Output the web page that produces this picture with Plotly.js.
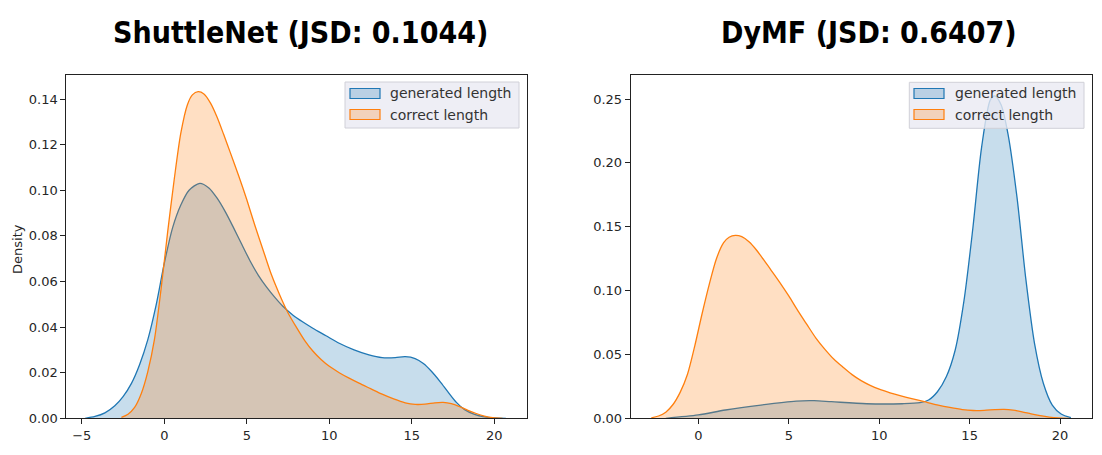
<!DOCTYPE html>
<html>
<head>
<meta charset="utf-8">
<script src="https://cdn.plot.ly/plotly-3.0.1.min.js"></script>
<style>html,body{margin:0;padding:0;background:#fff;}#chart{width:1102px;height:455px;}</style>
</head>
<body>
<div id="chart"></div>
<script>
// ---- Data ----
var seriesNames = ["generated length", "correct length"];
var panelTitles = ["ShuttleNet (JSD: 0.1044)", "DyMF (JSD: 0.6407)"];

// ShuttleNet generated length KDE
var shuttleGenX = [-4.8, -4.2, -3.6, -3.0, -2.5, -2.0, -1.5, -1.0, -0.5, 0.0, 0.5, 1.0, 1.5, 2.15, 2.7, 3.2, 3.7, 4.2, 4.7, 5.2, 5.7, 6.2, 6.7, 7.2, 7.8, 8.4, 9.0, 9.8, 10.6, 11.5, 12.4, 13.2, 14.0, 14.6, 15.2, 15.7, 16.2, 16.7, 17.2, 17.7, 18.2, 18.8, 19.4, 20.0, 20.7];
var shuttleGenY = [0.0, 0.0008, 0.0024, 0.0055, 0.0095, 0.0152, 0.0235, 0.0345, 0.0495, 0.0680, 0.0835, 0.0935, 0.1000, 0.1030, 0.1010, 0.0965, 0.0905, 0.0835, 0.0762, 0.0690, 0.0627, 0.0575, 0.0530, 0.0490, 0.0452, 0.0422, 0.0395, 0.0362, 0.0329, 0.0300, 0.0278, 0.0266, 0.0266, 0.0270, 0.0262, 0.0240, 0.0205, 0.0162, 0.0115, 0.0070, 0.0038, 0.0017, 0.0006, 0.0002, 0.0];

// correct length KDE (same ground truth in both panels)
var correctX = [-2.6, -2.2, -1.8, -1.4, -1.0, -0.6, -0.2, 0.2, 0.6, 1.0, 1.4, 1.7, 2.05, 2.4, 2.8, 3.2, 3.6, 4.0, 4.5, 5.0, 5.5, 6.0, 6.5, 7.0, 7.5, 8.0, 8.5, 9.0, 9.5, 10.0, 10.6, 11.2, 11.8, 12.5, 13.2, 13.9, 14.6, 15.2, 15.8, 16.4, 16.9, 17.4, 17.9, 18.4, 18.9, 19.4, 19.9, 20.5];
var correctY = [0.0004, 0.0018, 0.0048, 0.0108, 0.0205, 0.0345, 0.0565, 0.0815, 0.1047, 0.1250, 0.1375, 0.1418, 0.1432, 0.1422, 0.1382, 0.1320, 0.1244, 0.1165, 0.1065, 0.0958, 0.0843, 0.0735, 0.0628, 0.0540, 0.0462, 0.0400, 0.0342, 0.0295, 0.0258, 0.0228, 0.0200, 0.0176, 0.0154, 0.0130, 0.0106, 0.0085, 0.0068, 0.0061, 0.0062, 0.0068, 0.0070, 0.0064, 0.0051, 0.0035, 0.0021, 0.0010, 0.0003, 0.0];

// DyMF generated length KDE
var dymfGenX = [-1.8, 0.0, 1.5, 3.46, 5.41, 6.4, 7.36, 9.3, 11.27, 12.25, 12.73, 13.22, 13.71, 14.2, 14.69, 15.18, 15.66, 16.15, 16.39, 16.74, 17.13, 17.62, 18.1, 18.59, 19.08, 19.57, 20.06, 20.6];
var dymfGenY = [0.0, 0.0026, 0.0065, 0.0104, 0.0135, 0.0138, 0.013, 0.0114, 0.0114, 0.0122, 0.0143, 0.0208, 0.0325, 0.0533, 0.0923, 0.149, 0.212, 0.2495, 0.2525, 0.2455, 0.222, 0.173, 0.110, 0.0585, 0.0273, 0.0104, 0.0034, 0.0005];

var xTicks = [-5, 0, 5, 10, 15, 20];
var yTicksLeft = [0, 0.02, 0.04, 0.06, 0.08, 0.10, 0.12, 0.14];
var yTicksRight = [0, 0.05, 0.10, 0.15, 0.20, 0.25];

// ---- Styling ----
var W = 1102, H = 455;
function px(x){ return x / W; }
function py(y){ return 1 - y / H; }
var blue = "#1f77b4", orange = "#ff7f0e";
var blueFill = "rgba(31,119,180,0.25)", orangeFill = "rgba(255,127,14,0.25)";
var tickFont = {family: "DejaVu Sans", size: 13, color: "#262626"};

function kde(x, y, color, fill, xa, ya, name) {
  return {x: x, y: y, xaxis: xa, yaxis: ya, type: "scatter", mode: "lines", name: name,
    line: {color: color, width: 1.3, shape: "spline", smoothing: 0.8},
    fill: "tozeroy", fillcolor: fill, showlegend: false, hoverinfo: "skip"};
}

var data = [
  kde(shuttleGenX, shuttleGenY, blue, blueFill, "x", "y", seriesNames[0]),
  kde(correctX, correctY, orange, orangeFill, "x", "y", seriesNames[1]),
  kde(dymfGenX, dymfGenY, blue, blueFill, "x2", "y2", seriesNames[0]),
  kde(correctX, correctY, orange, orangeFill, "x2", "y2", seriesNames[1])
];

function xaxis(domain, range, anchor) {
  return {domain: domain, range: range, anchor: anchor, tickvals: xTicks, ticks: "outside", ticklen: 5,
    tickcolor: "#222", showline: true, mirror: true, linecolor: "#222", linewidth: 1, showgrid: false,
    zeroline: false, tickfont: tickFont, automargin: false};
}
function yaxis(domain, range, anchor, ticks) {
  return {domain: domain, range: range, anchor: anchor, tickvals: ticks, tickformat: ".2f", ticks: "outside", ticklen: 5,
    tickcolor: "#222", showline: true, mirror: true, linecolor: "#222", linewidth: 1, showgrid: false,
    zeroline: false, tickfont: tickFont, automargin: false};
}

var yDom = [py(418.3), py(75.3)];
var layout = {
  width: W, height: H, margin: {l: 0, r: 0, t: 0, b: 0}, paper_bgcolor: "#fff", plot_bgcolor: "#fff",
  showlegend: false,
  xaxis: xaxis([px(66.3), px(527)], [-5.94, 21.98], "y"),
  yaxis: yaxis(yDom, [0, 0.1504], "x", yTicksLeft),
  xaxis2: xaxis([px(630.7), px(1091.7)], [-3.74, 21.75], "y2"),
  yaxis2: yaxis(yDom, [0, 0.2686], "x2", yTicksRight),
  shapes: [],
  annotations: []
};

var titleFont = {family: "Liberation Sans Narrow, DejaVu Sans Condensed, sans-serif", size: 30, color: "#000", weight: "bold"};
layout.annotations.push({xref: "paper", yref: "paper", x: px(300), y: py(33), text: "<b>" + panelTitles[0] + "</b>", showarrow: false, xanchor: "center", yanchor: "middle", font: titleFont});
layout.annotations.push({xref: "paper", yref: "paper", x: px(869), y: py(33), text: "<b>" + panelTitles[1] + "</b>", showarrow: false, xanchor: "center", yanchor: "middle", font: titleFont});
layout.annotations.push({xref: "paper", yref: "paper", x: px(17), y: py(249), text: "Density", textangle: -90, showarrow: false, xanchor: "center", yanchor: "middle", font: {family: "DejaVu Sans", size: 13, color: "#262626"}});

// Manual legends (matplotlib style)
function legend(x0, y0, x1, y1, patchX, textX) {
  layout.shapes.push({type: "rect", xref: "paper", yref: "paper", x0: px(x0), x1: px(x1), y0: py(y0), y1: py(y1),
    fillcolor: "rgba(234,234,242,0.8)", line: {color: "#d0d0d8", width: 1}, layer: "above"});
  var rows = [{y: 93.5, line: blue, fill: blueFill, label: seriesNames[0]}, {y: 114.5, line: orange, fill: orangeFill, label: seriesNames[1]}];
  rows.forEach(function(r){
    layout.shapes.push({type: "rect", xref: "paper", yref: "paper", x0: px(patchX), x1: px(patchX + 30), y0: py(r.y - 5), y1: py(r.y + 5),
      fillcolor: r.fill, line: {color: r.line, width: 1.2}, layer: "above"});
    layout.annotations.push({xref: "paper", yref: "paper", x: px(textX), y: py(r.y), text: r.label, showarrow: false, xanchor: "left", yanchor: "middle",
      font: {family: "DejaVu Sans", size: 14, color: "#333"}});
  });
}
legend(345, 82, 519, 128, 350, 388);
legend(909.3, 82.3, 1084, 128.3, 914, 953);

Plotly.newPlot("chart", data, layout, {staticPlot: true});
</script>
</body>
</html>
